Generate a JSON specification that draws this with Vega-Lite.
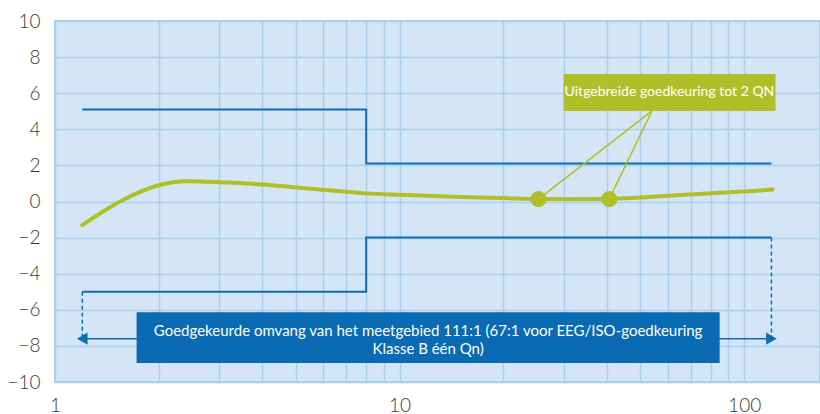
{
  "$schema": "https://vega.github.io/schema/vega-lite/v6.json",
  "width": 765,
  "height": 361,
  "autosize": {"type": "none"},
  "padding": {"left": 55, "top": 21, "right": 0, "bottom": 32},
  "background": "white",
  "config": {
    "view": {"fill": "#d4e6f5", "stroke": "#a9cfef", "strokeWidth": 2},
    "font": "Lato",
    "axis": {"labelOverlap": false, "labelFlush": false, "labelBound": false}
  },
  "datasets": {
    "steps": [
      {"s": "upper", "o": 1, "x": 1.2, "y": 5.1},
      {"s": "upper", "o": 2, "x": 8, "y": 5.1},
      {"s": "upper", "o": 3, "x": 8, "y": 2.1},
      {"s": "upper", "o": 4, "x": 120, "y": 2.1},
      {"s": "lower", "o": 1, "x": 1.2, "y": -5},
      {"s": "lower", "o": 2, "x": 8, "y": -5},
      {"s": "lower", "o": 3, "x": 8, "y": -2},
      {"s": "lower", "o": 4, "x": 120, "y": -2}
    ],
    "curve": [
      {"x": 1.2, "y": -1.31},
      {"x": 1.57, "y": 0.07},
      {"x": 2.0, "y": 0.9},
      {"x": 2.4, "y": 1.12},
      {"x": 3.0, "y": 1.07},
      {"x": 4.0, "y": 0.94},
      {"x": 5.0, "y": 0.78},
      {"x": 6.5, "y": 0.6},
      {"x": 8, "y": 0.45},
      {"x": 10, "y": 0.37},
      {"x": 15, "y": 0.25},
      {"x": 20, "y": 0.19},
      {"x": 25, "y": 0.14},
      {"x": 32, "y": 0.13},
      {"x": 40, "y": 0.14},
      {"x": 50, "y": 0.22},
      {"x": 60, "y": 0.32},
      {"x": 80, "y": 0.46},
      {"x": 100, "y": 0.56},
      {"x": 121, "y": 0.66}
    ],
    "dashes": [
      {"x": 1.2, "y": -5, "y2": -7.6},
      {"x": 120, "y": -2, "y2": -7.6}
    ],
    "arrow": [{"x": 1.2, "x2": 120, "y": -7.6}],
    "heads": [
      {"x": 1.2, "y": -7.6, "shape": "triangle-left", "off": 6},
      {"x": 120, "y": -7.6, "shape": "triangle-right", "off": -6}
    ],
    "bluebox": [{"x": 1.725, "x2": 84.9, "y": -6.14, "y2": -8.95}],
    "bluetext": [{"x": 12.1, "y": -7.2, "t": "Goedgekeurde omvang van het meetgebied 111:1 (67:1 voor EEG/ISO-goedkeuring"},
                 {"x": 12.1, "y": -8.15, "t": "Klasse B één Qn)"}],
    "leaders": [
      {"x": 54, "y": 5.02, "x2": 25.3, "y2": 0.13},
      {"x": 54, "y": 5.02, "x2": 40.6, "y2": 0.13}
    ],
    "dots": [{"x": 25.3, "y": 0.13}, {"x": 40.6, "y": 0.13}],
    "greenbox": [{"x": 29.9, "x2": 123.3, "y": 7.06, "y2": 5.02}],
    "greentext": [{"x": 60.7, "y": 6.06, "t": "Uitgebreide goedkeuring tot 2 QN"}]
  },
  "encoding": {
    "x": {
      "field": "x", "type": "quantitative",
      "scale": {"type": "log", "domain": [1, 166], "nice": false},
      "axis": {
        "title": null,
        "values": [1, 2, 3, 4, 5, 6, 7, 8, 9, 10, 20, 30, 40, 50, 60, 70, 80, 90, 100],
        "labelExpr": "datum.value == 1 || datum.value == 10 || datum.value == 100 ? format(datum.value, 'd') : ''",
        "grid": true, "gridColor": "#a9cfef", "gridWidth": 1.5, "gridOpacity": 1,
        "domain": false, "ticks": false,
        "labelFont": "Lato", "labelFontSize": 19, "labelFontWeight": 300, "labelColor": "#3a3a3a",
        "labelPadding": 14, "labelBaseline": "top", "labelFlush": false, "labelOverlap": false
      }
    },
    "y": {
      "field": "y", "type": "quantitative",
      "scale": {"domain": [-10, 10], "nice": false, "zero": false},
      "axis": {
        "title": null,
        "values": [-10, -8, -6, -4, -2, 0, 2, 4, 6, 8, 10],
        "grid": true, "gridColor": "#a9cfef", "gridWidth": 1.5, "gridOpacity": 1,
        "domain": false, "ticks": false,
        "labelFont": "Lato", "labelFontSize": 19, "labelFontWeight": 300, "labelColor": "#3a3a3a",
        "labelPadding": 15, "labelFlush": false, "labelOverlap": false
      }
    }
  },
  "layer": [
    {
      "data": {"name": "steps"},
      "mark": {"type": "line", "color": "#0d6cb5", "strokeWidth": 2},
      "encoding": {
        "detail": {"field": "s"},
        "order": {"field": "o"}
      }
    },
    {
      "data": {"name": "dashes"},
      "mark": {"type": "rule", "color": "#0d6cb5", "strokeWidth": 1.5, "strokeDash": [4, 3]},
      "encoding": {
        "y2": {"field": "y2"}
      }
    },
    {
      "data": {"name": "arrow"},
      "mark": {"type": "rule", "color": "#0d6cb5", "strokeWidth": 1.5},
      "encoding": {
        "x2": {"field": "x2"}
      }
    },
    {
      "data": {"name": "heads"},
      "mark": {"type": "point", "filled": true, "color": "#0d6cb5", "opacity": 1, "size": 150},
      "encoding": {
        "shape": {"field": "shape", "type": "nominal", "scale": null, "legend": null},
        "xOffset": {"field": "off", "type": "quantitative", "scale": null}
      }
    },
    {
      "data": {"name": "bluebox"},
      "mark": {"type": "rect", "color": "#0a6ab4"},
      "encoding": {
        "x2": {"field": "x2"},
        "y2": {"field": "y2"}
      }
    },
    {
      "data": {"name": "bluetext"},
      "mark": {"type": "text", "color": "white", "font": "Lato", "fontSize": 15, "align": "center", "baseline": "middle"},
      "encoding": {
        "text": {"field": "t"}
      }
    },
    {
      "data": {"name": "curve"},
      "mark": {"type": "line", "color": "#afbf27", "strokeWidth": 4, "interpolate": "monotone", "strokeCap": "round"},
      "encoding": {}
    },
    {
      "data": {"name": "leaders"},
      "mark": {"type": "rule", "color": "#afbf27", "strokeWidth": 1.5},
      "encoding": {
        "x2": {"field": "x2"},
        "y2": {"field": "y2"}
      }
    },
    {
      "data": {"name": "dots"},
      "mark": {"type": "circle", "color": "#afbf27", "opacity": 1, "size": 260},
      "encoding": {}
    },
    {
      "data": {"name": "greenbox"},
      "mark": {"type": "rect", "color": "#afbf27"},
      "encoding": {
        "x2": {"field": "x2"},
        "y2": {"field": "y2"}
      }
    },
    {
      "data": {"name": "greentext"},
      "mark": {"type": "text", "color": "white", "font": "Lato", "fontSize": 14, "align": "center", "baseline": "middle"},
      "encoding": {
        "text": {"field": "t"}
      }
    }
  ]
}
